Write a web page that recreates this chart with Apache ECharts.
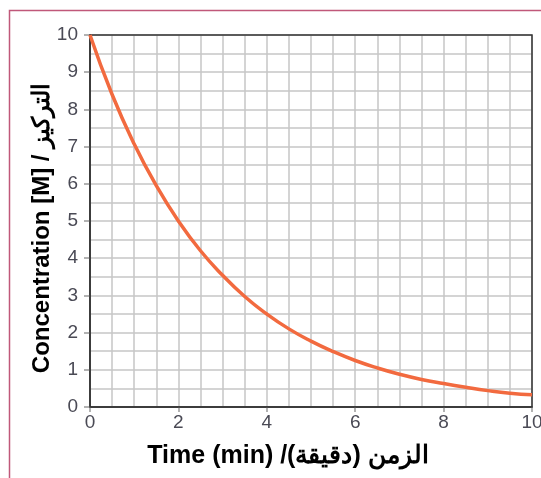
<!DOCTYPE html>
<html>
<head>
<meta charset="utf-8">
<script src="https://cdn.jsdelivr.net/npm/echarts@6/dist/echarts.min.js"></script>
<style>
html,body{margin:0;padding:0;background:#fff;}
#c{width:541px;height:478px;}
</style>
</head>
<body>
<div id="c"></div>
<script>
var times = [0,0.5,1,1.5,2,2.5,3,3.5,4,4.5,5,5.5,6,6.5,7,7.5,8,8.5,9,9.5,10];
var concentration = [10,8.4,7.07,5.95,5.0,4.2,3.54,2.97,2.5,2.1,1.77,1.49,1.25,1.05,0.88,0.74,0.63,0.53,0.44,0.37,0.33];
var xTitle = 'Time (min) /\u0627\u0644\u0632\u0645\u0646 (\u062F\u0642\u064A\u0642\u0629)\u200F';
var yTitle = 'Concentration [M] / \u0627\u0644\u062A\u0631\u0643\u064A\u0632';

var chart = echarts.init(document.getElementById('c'), null, {renderer:'canvas'});
var gridColor = '#c6c6c6';
var labelStyle = {color:'#4a4a55', fontSize:19, fontFamily:'Liberation Sans, Arial, sans-serif'};
chart.setOption({
  animation:false,
  backgroundColor:'#fff',
  graphic:[{
    type:'rect', silent:true, z:-1,
    shape:{x:9.5,y:10.5,width:700,height:700},
    style:{fill:'none',stroke:'#c0587a',lineWidth:1.5}
  }],
  grid:{left:90,right:9,top:35,bottom:71,outerBoundsMode:'none',containLabel:false,show:true,borderColor:'#333',borderWidth:1.5,backgroundColor:'transparent',z:3},
  xAxis:{
    type:'value',min:0,max:10,interval:2,
    name:xTitle,nameLocation:'middle',nameGap:37,nameMoveOverlap:false,
    nameTextStyle:{color:'#000',fontSize:25,fontWeight:'bold',fontFamily:'Liberation Sans, Arial, sans-serif',padding:[0,46,0,0]},
    axisLine:{show:true,lineStyle:{color:'#333',width:1.5}},
    axisTick:{show:true,length:5,lineStyle:{color:'#999',width:1.5}},
    axisLabel:Object.assign({margin:6},labelStyle),
    splitLine:{show:true,lineStyle:{color:gridColor,width:1.5}},
    minorTick:{show:false,splitNumber:4},
    minorSplitLine:{show:true,lineStyle:{color:gridColor,width:1.5}}
  },
  yAxis:{
    type:'value',min:0,max:10,interval:1,
    name:yTitle,nameLocation:'middle',nameGap:36,nameRotate:90,nameMoveOverlap:false,
    nameTextStyle:{color:'#000',fontSize:24,fontWeight:'bold',fontFamily:'Liberation Sans, Arial, sans-serif',padding:[0,14,0,0]},
    axisLine:{show:true,lineStyle:{color:'#333',width:1.5}},
    axisTick:{show:true,length:6,lineStyle:{color:'#999',width:1.5}},
    axisLabel:Object.assign({margin:12},labelStyle),
    splitLine:{show:true,lineStyle:{color:gridColor,width:1.5}},
    minorTick:{show:false,splitNumber:2},
    minorSplitLine:{show:true,lineStyle:{color:gridColor,width:1.5}}
  },
  series:[{
    type:'line',
    data:times.map(function(t,i){return [t,concentration[i]];}),
    smooth:true,showSymbol:false,symbol:'none',clip:true,z:5,
    lineStyle:{color:'#f26a3f',width:3.5}
  }]
});
</script>
</body>
</html>
